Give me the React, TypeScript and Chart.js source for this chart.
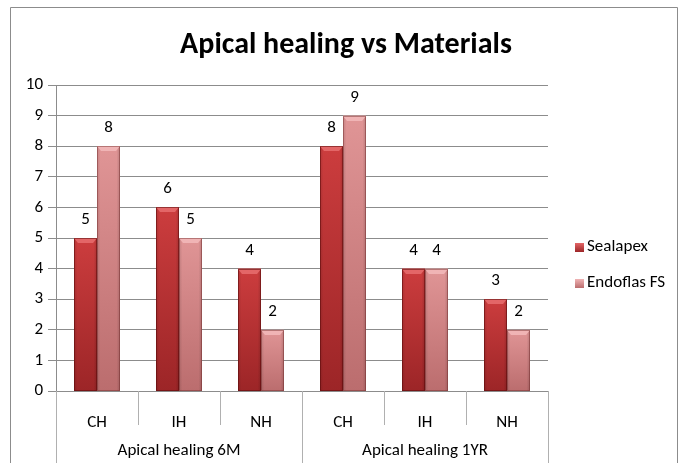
import React, { useEffect, useRef } from "react";
import { Chart, registerables } from "chart.js";

Chart.register(...registerables);

const categories = ["CH", "IH", "NH", "CH", "IH", "NH"];
const groups = ["Apical healing 6M", "Apical healing 1YR"];
const groupSize = 3;
const sealapex = [5, 6, 4, 8, 4, 3];
const endoflas = [8, 5, 2, 9, 4, 2];
const seriesNames = ["Sealapex", "Endoflas FS"];
const titleText = "Apical healing vs Materials";

const FONT = "Carlito, Lato, 'Liberation Sans', sans-serif";
const FS = 17;
const palettes = [
  { top: "#cc3d3e", bottom: "#9c2527", bevel: "#e36667", edge: "rgba(90,10,10,0.55)" },
  { top: "#e09596", bottom: "#bb6d6e", bevel: "#f0b4b5", edge: "rgba(110,40,40,0.45)" },
];

const decor = {
  id: "decor",
  beforeDraw(chart: any) {
    const ctx = chart.ctx;
    ctx.save();
    ctx.fillStyle = "#fff";
    ctx.fillRect(0, 0, chart.width, chart.height);
    ctx.strokeStyle = "#8c8c8c";
    ctx.lineWidth = 1;
    ctx.beginPath();
    ctx.moveTo(10.5, 470);
    ctx.lineTo(10.5, 7.5);
    ctx.lineTo(677.5, 7.5);
    ctx.lineTo(677.5, 470);
    ctx.stroke();
    ctx.fillStyle = "#000";
    ctx.font = `bold 30px ${FONT}`;
    ctx.textAlign = "center";
    ctx.textBaseline = "middle";
    ctx.fillText(titleText, 346, 45);
    ctx.restore();
  },
  afterDatasetsDraw(chart: any) {
    const ctx = chart.ctx;
    ctx.save();
    chart.data.datasets.forEach((ds: any, di: number) => {
      const meta = chart.getDatasetMeta(di);
      const p = palettes[di];
      meta.data.forEach((bar: any, i: number) => {
        const w = bar.width;
        const l = Math.round(bar.x - w / 2);
        const r = Math.round(bar.x + w / 2);
        const t = Math.round(bar.y);
        const b = Math.round(bar.base);
        const g = ctx.createLinearGradient(0, t, 0, b);
        g.addColorStop(0, p.top);
        g.addColorStop(1, p.bottom);
        ctx.fillStyle = g;
        ctx.fillRect(l, t, r - l, b - t);
        const hg = ctx.createLinearGradient(l, 0, r, 0);
        hg.addColorStop(0, "rgba(0,0,0,0.12)");
        hg.addColorStop(0.15, "rgba(0,0,0,0)");
        hg.addColorStop(0.85, "rgba(0,0,0,0)");
        hg.addColorStop(1, "rgba(0,0,0,0.15)");
        ctx.fillStyle = hg;
        ctx.fillRect(l, t, r - l, b - t);
        ctx.fillStyle = p.bevel;
        ctx.beginPath();
        ctx.moveTo(l, t);
        ctx.lineTo(r, t);
        ctx.lineTo(r - 4, t + 5);
        ctx.lineTo(l + 4, t + 5);
        ctx.closePath();
        ctx.fill();
        ctx.strokeStyle = p.edge;
        ctx.lineWidth = 1;
        ctx.strokeRect(l + 0.5, t + 0.5, r - l - 1, b - t - 1);
        ctx.fillStyle = "#000";
        ctx.font = `${FS}px ${FONT}`;
        ctx.textAlign = "center";
        ctx.textBaseline = "middle";
        ctx.fillText(String(ds.data[i]), bar.x, t - 18);
      });
    });
    ctx.restore();
  },
  afterDraw(chart: any) {
    const ctx = chart.ctx;
    const xs = chart.scales.x;
    const area = chart.chartArea;
    ctx.save();
    const n = categories.length;
    const step = (area.right - area.left) / n;
    ctx.strokeStyle = "#b0b0b0";
    ctx.lineWidth = 1;
    for (let k = 0; k <= n; k++) {
      const x = Math.round(area.left + step * k) + 0.5;
      const full = k % groupSize === 0;
      ctx.beginPath();
      ctx.moveTo(x, area.bottom);
      ctx.lineTo(x, full ? chart.height : area.bottom + 34);
      ctx.stroke();
    }
    ctx.fillStyle = "#000";
    ctx.font = `${FS}px ${FONT}`;
    ctx.textAlign = "center";
    ctx.textBaseline = "middle";
    groups.forEach((gname, gi) => {
      const a = xs.getPixelForValue(gi * groupSize);
      const b = xs.getPixelForValue(gi * groupSize + groupSize - 1);
      ctx.fillText(gname, (a + b) / 2, 451);
    });
    const ly = [247, 283];
    seriesNames.forEach((name, i) => {
      const p = palettes[i];
      const g = ctx.createLinearGradient(0, ly[i] - 4, 0, ly[i] + 5);
      g.addColorStop(0, p.bevel);
      g.addColorStop(1, p.bottom);
      ctx.fillStyle = g;
      ctx.fillRect(575, ly[i] - 4, 9, 9);
      ctx.fillStyle = "#000";
      ctx.textAlign = "left";
      ctx.font = `${FS}px ${FONT}`;
      ctx.fillText(name, 587, ly[i]);
    });
    ctx.restore();
  },
};

export default function App() {
  const ref = useRef<HTMLCanvasElement>(null);
  useEffect(() => {
    const chart = new Chart(ref.current!, {
      type: "bar",
      data: {
        labels: categories,
        datasets: [
          { label: seriesNames[0], data: sealapex, backgroundColor: palettes[0].top },
          { label: seriesNames[1], data: endoflas, backgroundColor: palettes[1].top },
        ],
      },
      options: {
        responsive: false,
        animation: false,
        events: [],
        layout: { padding: { top: 85, right: 140, left: 0, bottom: 0 } },
        plugins: { legend: { display: false }, title: { display: false }, tooltip: { enabled: false } },
        datasets: { bar: { barPercentage: 1, categoryPercentage: 0.56 } },
        scales: {
          x: {
            grid: { display: false },
            border: { display: true, color: "#8c8c8c" },
            ticks: { font: { family: FONT, size: FS }, color: "#000", padding: 14 },
            afterFit: (s: any) => { s.height = 72; },
          },
          y: {
            min: 0,
            max: 10,
            ticks: { stepSize: 1, font: { family: FONT, size: FS }, color: "#000", padding: 5 },
            grid: { color: "#8c8c8c", tickLength: 8 },
            border: { display: true, color: "#8c8c8c" },
            afterFit: (s: any) => { s.width = 56; },
          },
        },
      },
      plugins: [decor],
    });
    return () => chart.destroy();
  }, []);
  return (
    <div style={{ position: "fixed", left: 0, top: 0, width: 688, height: 463, background: "#fff" }}>
      <canvas ref={ref} width={688} height={463} style={{ display: "block" }} />
    </div>
  );
}
